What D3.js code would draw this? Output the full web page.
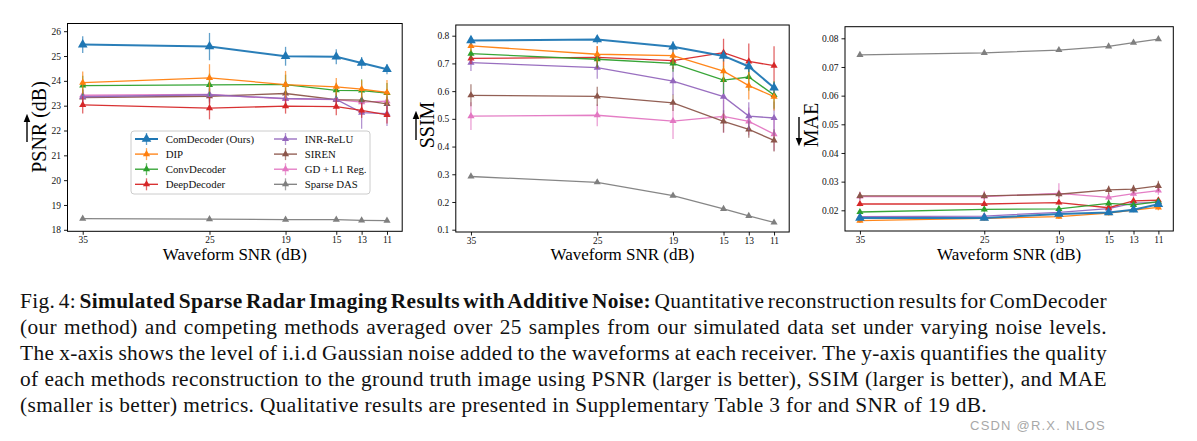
<!DOCTYPE html>
<html>
<head>
<meta charset="utf-8">
<script src="https://cdn.jsdelivr.net/npm/d3@7/dist/d3.min.js"></script>
<style>
  html, body { margin: 0; padding: 0; background: #fff; }
  svg { display: block; }
</style>
</head>
<body>
<svg id="chart" width="1197" height="441"></svg>
<script>
// ---------------- DATA ----------------
const snrLevels = [35, 25, 19, 15, 13, 11];
const methods = ["ComDecoder (Ours)", "DIP", "ConvDecoder", "DeepDecoder", "INR-ReLU", "SIREN", "GD + L1 Reg.", "Sparse DAS"];
const methodColors = ["#1f77b4", "#ff7f0e", "#2ca02c", "#d62728", "#9467bd", "#8c564b", "#e377c2", "#7f7f7f"];

const psnrTicks = [18, 19, 20, 21, 22, 23, 24, 25, 26];
const ssimTicks = [0.1, 0.2, 0.3, 0.4, 0.5, 0.6, 0.7, 0.8];
const maeTicks = [0.02, 0.03, 0.04, 0.05, 0.06, 0.07, 0.08];

// rows follow the order of `methods`
const psnrMean = [
  [25.46, 25.38, 24.99, 24.97, 24.72, 24.47],
  [23.93, 24.12, 23.85, 23.76, 23.67, 23.53],
  [23.81, 23.84, 23.85, 23.62, 23.61, 23.51],
  [23.03, 22.90, 22.98, 22.96, 22.81, 22.63],
  [23.36, 23.44, 23.29, 23.25, 22.72, 22.68],
  [23.33, 23.38, 23.49, 23.24, 23.22, 23.07],
  [23.42, 23.45, 23.27, 23.24, 23.14, 23.18],
  [18.45, 18.43, 18.41, 18.41, 18.38, 18.37]
];
const psnrErr = [
  [0.34, 0.55, 0.38, 0.30, 0.24, 0.20],
  [0.45, 0.55, 0.55, 0.35, 0.35, 0.50],
  [0.40, 0.45, 0.40, 0.30, 0.45, 0.40],
  [0.35, 0.45, 0.30, 0.35, 0.30, 0.35],
  [0.30, 0.30, 0.30, 0.25, 0.65, 0.50],
  [0.30, 0.30, 0.30, 0.30, 0.30, 0.30],
  [0.25, 0.25, 0.25, 0.25, 0.25, 0.30],
  [0.03, 0.03, 0.03, 0.03, 0.03, 0.03]
];
const ssimMean = [
  [0.783, 0.786, 0.760, 0.727, 0.689, 0.612],
  [0.763, 0.733, 0.728, 0.672, 0.620, 0.580],
  [0.735, 0.715, 0.700, 0.640, 0.651, 0.586],
  [0.718, 0.722, 0.710, 0.739, 0.707, 0.692],
  [0.703, 0.685, 0.636, 0.580, 0.510, 0.503],
  [0.585, 0.581, 0.558, 0.491, 0.462, 0.422],
  [0.510, 0.513, 0.492, 0.509, 0.491, 0.445],
  [0.292, 0.271, 0.223, 0.175, 0.150, 0.126]
];
const ssimErr = [
  [0.015, 0.015, 0.020, 0.020, 0.020, 0.020],
  [0.020, 0.030, 0.030, 0.040, 0.050, 0.050],
  [0.020, 0.030, 0.030, 0.050, 0.050, 0.050],
  [0.020, 0.040, 0.030, 0.050, 0.065, 0.070],
  [0.030, 0.040, 0.050, 0.060, 0.050, 0.060],
  [0.040, 0.035, 0.030, 0.040, 0.030, 0.040],
  [0.050, 0.040, 0.065, 0.060, 0.050, 0.060],
  [0.003, 0.003, 0.003, 0.003, 0.003, 0.003]
];
const maeMean = [
  [0.0173, 0.0173, 0.0187, 0.0192, 0.0202, 0.0221],
  [0.0164, 0.0172, 0.0178, 0.0190, 0.0201, 0.0210],
  [0.0194, 0.0203, 0.0205, 0.0224, 0.0219, 0.0230],
  [0.0222, 0.0222, 0.0227, 0.0209, 0.0233, 0.0235],
  [0.0178, 0.0180, 0.0193, 0.0206, 0.0225, 0.0228],
  [0.0250, 0.0250, 0.0256, 0.0271, 0.0274, 0.0285],
  [0.0248, 0.0248, 0.0259, 0.0245, 0.0258, 0.0269],
  [0.0742, 0.0749, 0.0759, 0.0772, 0.0785, 0.0797]
];
const maeErr = [
  [0.0008, 0.0008, 0.0008, 0.0008, 0.0008, 0.0008],
  [0.0008, 0.0008, 0.0008, 0.0008, 0.0008, 0.0010],
  [0.0008, 0.0008, 0.0008, 0.0008, 0.0008, 0.0008],
  [0.0008, 0.0008, 0.0008, 0.0008, 0.0008, 0.0008],
  [0.0008, 0.0008, 0.0008, 0.0008, 0.0008, 0.0008],
  [0.0012, 0.0012, 0.0012, 0.0015, 0.0015, 0.0018],
  [0.0018, 0.0020, 0.0035, 0.0015, 0.0015, 0.0015],
  [0.0003, 0.0003, 0.0003, 0.0003, 0.0003, 0.0003]
];

const xAxisLabel = "Waveform SNR (dB)";
const captionLines = [
  [["Fig. 4: ", false], ["Simulated Sparse Radar Imaging Results with Additive Noise:", true], [" Quantitative reconstruction results for ComDecoder", false]],
  [["(our method) and competing methods averaged over 25 samples from our simulated data set under varying noise levels.", false]],
  [["The x-axis shows the level of i.i.d Gaussian noise added to the waveforms at each receiver. The y-axis quantifies the quality", false]],
  [["of each methods reconstruction to the ground truth image using PSNR (larger is better), SSIM (larger is better), and MAE", false]],
  [["(smaller is better) metrics. Qualitative results are presented in Supplementary Table 3 for and SNR of 19 dB.", false]]
];
const watermark = "CSDN @R.X. NLOS";

// ---------------- LAYOUT ----------------
const svg = d3.select("#chart");
const serif = "'Liberation Serif', 'Times New Roman', serif";

const panels = [
  { label: "PSNR (dB)", mean: psnrMean, err: psnrErr, ticks: psnrTicks, fmt: d3.format("d"),
    x0: 67.5, x1: 402.2, y0: 23.5, y1: 231.3, yDom: [17.94, 26.31],
    labelX: 46, labelY: 127, arrowX: 27, arrowYs: [142, 118] },
  { label: "SSIM", mean: ssimMean, err: ssimErr, ticks: ssimTicks, fmt: d3.format(".1f"),
    x0: 455.8, x1: 789.2, y0: 25, y1: 232, yDom: [0.0917, 0.8386],
    labelX: 434, labelY: 125, arrowX: 416, arrowYs: [140, 115] },
  { label: "MAE", mean: maeMean, err: maeErr, ticks: maeTicks, fmt: d3.format(".2f"),
    x0: 845, x1: 1173.3, y0: 26.7, y1: 231, yDom: [0.01278, 0.08405],
    labelX: 818, labelY: 125, arrowX: 799, arrowYs: [117, 142] }
];

const defs = svg.append("defs");
defs.append("marker").attr("id", "ah")
  .attr("viewBox", "0 0 10 10").attr("refX", 5).attr("refY", 5)
  .attr("markerWidth", 6).attr("markerHeight", 6).attr("orient", "auto")
  .append("path").attr("d", "M0,1 L10,5 L0,9 Z").attr("fill", "#000");

const drawOrder = [7, 6, 5, 4, 3, 2, 1, 0];

panels.forEach(p => {
  const x = d3.scaleLinear().domain([35 + 1.2, 11 - 1.2]).range([p.x0, p.x1]);
  const y = d3.scaleLinear().domain(p.yDom).range([p.y1, p.y0]);
  const g = svg.append("g");

  // axes
  const xAxis = d3.axisBottom(x).tickValues(snrLevels).tickFormat(d3.format("d")).tickSize(3.5).tickPadding(1.5);
  const yAxis = d3.axisLeft(y).tickValues(p.ticks).tickFormat(p.fmt).tickSize(3.5).tickPadding(3);
  const gx = g.append("g").attr("transform", `translate(0,${p.y1})`).call(xAxis);
  const gy = g.append("g").attr("transform", `translate(${p.x0},0)`).call(yAxis);
  [gx, gy].forEach(a => {
    a.select(".domain").remove();
    a.selectAll("text").attr("font-family", serif).attr("font-size", 9.5).attr("fill", "#111");
    a.selectAll("line").attr("stroke", "#000").attr("stroke-width", 0.9);
  });

  // series
  const line = d3.line().x((d, i) => x(snrLevels[i])).y(d => y(d));
  drawOrder.forEach(m => {
    const col = methodColors[m];
    const big = m === 0;
    const sg = g.append("g");
    sg.selectAll("line.err").data(p.mean[m]).join("line").attr("class", "err")
      .attr("x1", (d, i) => x(snrLevels[i])).attr("x2", (d, i) => x(snrLevels[i]))
      .attr("y1", (d, i) => y(d - p.err[m][i])).attr("y2", (d, i) => y(d + p.err[m][i]))
      .attr("stroke", col).attr("stroke-width", 1.3).attr("stroke-opacity", 0.7);
    sg.append("path").datum(p.mean[m]).attr("d", line)
      .attr("fill", "none").attr("stroke", col).attr("stroke-width", big ? 2 : 1.3)
      .attr("stroke-opacity", 0.95);
    sg.selectAll("path.mk").data(p.mean[m]).join("path").attr("class", "mk")
      .attr("d", d3.symbol(d3.symbolTriangle, big ? 40 : 22)())
      .attr("transform", (d, i) => `translate(${x(snrLevels[i])},${y(d)})`)
      .attr("fill", col);
  });

  // frame
  g.append("rect").attr("x", p.x0).attr("y", p.y0)
    .attr("width", p.x1 - p.x0).attr("height", p.y1 - p.y0)
    .attr("fill", "none").attr("stroke", "#000").attr("stroke-width", 1);

  // x label
  g.append("text").attr("x", (x(35) + x(11)) / 2).attr("y", 259.5)
    .attr("text-anchor", "middle").attr("font-family", serif).attr("font-size", 17)
    .attr("fill", "#000").text(xAxisLabel);

  // y label with over-arrow
  g.append("text").attr("transform", `translate(${p.labelX},${p.labelY}) rotate(-90)`)
    .attr("text-anchor", "middle").attr("font-family", serif).attr("font-size", 20)
    .attr("fill", "#000").text(p.label);
  g.append("line").attr("x1", p.arrowX).attr("x2", p.arrowX)
    .attr("y1", p.arrowYs[0]).attr("y2", p.arrowYs[1])
    .attr("stroke", "#000").attr("stroke-width", 1.4)
    .attr("marker-end", "url(#ah)");
});

// ---------------- LEGEND ----------------
const lg = svg.append("g");
lg.append("rect").attr("x", 131).attr("y", 131).attr("width", 239).attr("height", 63)
  .attr("rx", 3).attr("fill", "#fff").attr("fill-opacity", 0.85)
  .attr("stroke", "#cccccc").attr("stroke-width", 1);
methods.forEach((name, m) => {
  const col = Math.floor(m / 4), row = m % 4;
  const lx0 = col === 0 ? 135 : 274;
  const cy = 139 + row * 15.1;
  const cx = lx0 + 11.5;
  const hg = lg.append("g");
  hg.append("line").attr("x1", lx0).attr("x2", lx0 + 23).attr("y1", cy).attr("y2", cy)
    .attr("stroke", methodColors[m]).attr("stroke-width", m === 0 ? 2 : 1.3);
  hg.append("line").attr("x1", cx).attr("x2", cx).attr("y1", cy - 6).attr("y2", cy + 6)
    .attr("stroke", methodColors[m]).attr("stroke-width", 1.3).attr("stroke-opacity", 0.7);
  hg.append("path").attr("d", d3.symbol(d3.symbolTriangle, m === 0 ? 40 : 22)())
    .attr("transform", `translate(${cx},${cy})`).attr("fill", methodColors[m]);
  lg.append("text").attr("x", lx0 + 30.7).attr("y", cy).attr("dy", "0.35em")
    .attr("font-family", serif).attr("font-size", 10.8).attr("fill", "#111").text(name);
});

// ---------------- CAPTION ----------------
const capX = 20, capRight = 1107, baseSize = 19.5;
const lastTarget = 967;
const baselines = [308, 334, 360, 386, 412];
const capTexts = captionLines.map((parts, li) => {
  const t = svg.append("text").attr("x", capX).attr("y", baselines[li])
    .attr("font-family", serif).attr("font-size", baseSize).attr("fill", "#111")
    .attr("xml:space", "preserve");
  parts.forEach(([s, bold]) => {
    t.append("tspan").attr("font-weight", bold ? "bold" : "normal").text(s);
  });
  return t;
});
// font size: keep the first (bold-heavy) line from overflowing, stretch the rest a little
const w1 = capTexts[0].node().getComputedTextLength();
const w5a = capTexts[4].node().getComputedTextLength();
const capSize = baseSize * Math.min(lastTarget / w5a, (capRight - capX - 10) / w1);
capTexts.forEach(t => t.attr("font-size", capSize));
const w5b = capTexts[4].node().getComputedTextLength();
const n5 = captionLines[4].map(d => d[0]).join("").length;
const ls = Math.max(0, (lastTarget - w5b) / n5);
capTexts.forEach(t => t.attr("letter-spacing", ls));
capTexts.forEach((t, li) => {
  if (li === 4) return;
  const w = t.node().getComputedTextLength();
  const str = captionLines[li].map(d => d[0]).join("");
  const spaces = (str.match(/ /g) || []).length;
  t.attr("word-spacing", (capRight - capX - w) / spaces);
});

svg.append("text").attr("x", 1106).attr("y", 430).attr("text-anchor", "end")
  .attr("font-family", "'Liberation Sans', Arial, sans-serif").attr("font-size", 13)
  .attr("letter-spacing", 1.2)
  .attr("fill", "#a8a8a8").text(watermark);
</script>
</body>
</html>
